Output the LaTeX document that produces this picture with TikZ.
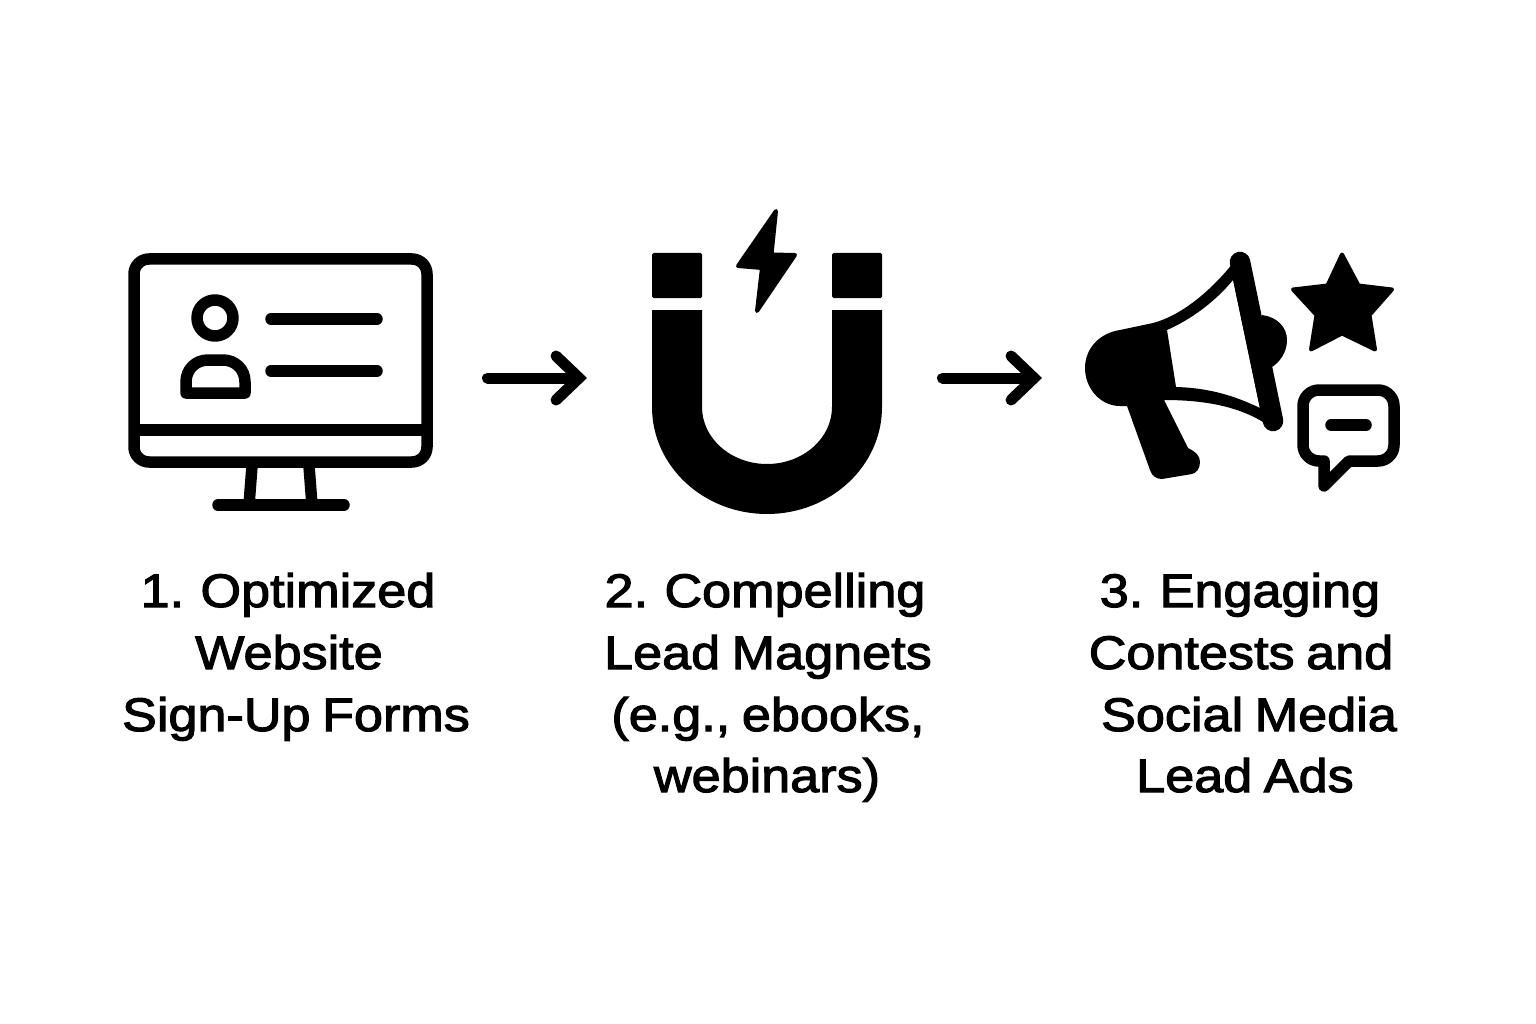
\documentclass[tikz,border=0pt]{standalone}
\usepackage{fontspec}
\setmainfont[FakeBold=2.4,FakeStretch=1.11,WordSpace=0.8]{Liberation Sans}
\usetikzlibrary{arrows.meta}
\tikzset{>=latex}
\tikzset{
    icon/.style={line width=11.5pt,line join=round},
    iconline/.style={icon,line cap=round},
    solid icon/.style={fill=black,draw=black,line width=4pt,line join=round},
    step label/.style={anchor=base,inner sep=0pt,font=\fontsize{47}{47}\selectfont},
    flow/.style={line width=11pt,line cap=round,-{Straight Barb[length=23pt,width=44pt,line width=11pt,line cap=round]}}
}
\begin{document}
\begin{tikzpicture}[x=1pt,y=-1pt]
    \useasboundingbox (0,0) rectangle (1536,1024);
    % monitor
    \draw[icon] (134,259) [rounded corners=15pt] rectangle (427,462);
    \draw[icon] (134,430) -- (427,430);
    \draw[icon] (252,466) -- (249,505);
    \draw[icon] (309,466) -- (312,505);
    \draw[iconline] (218,505) -- (344,505);
    \draw[icon] (215,318) circle (18);
    \draw[icon] (186,393) -- (186,382) .. controls (186,369) and (196,360) .. (208,360) -- (223,360)
        .. controls (235,360) and (245,369) .. (245,382) -- (245,393) -- cycle;
    \draw[iconline] (271,319) -- (377,319);
    \draw[iconline] (271,371) -- (377,371);
    % magnet
    \fill[rounded corners=1.5pt] (652,298) -- (652,253) -- (702,253) -- (702,298) -- cycle;
    \fill[rounded corners=1.5pt] (832,298) -- (832,253) -- (882,253) -- (882,298) -- cycle;
    \fill (652,310) -- (702,310) -- (702,407) arc[start angle=180,end angle=360,x radius=65,y radius=-57]
        -- (832,310) -- (882,310) -- (882,407) arc[start angle=360,end angle=180,x radius=115,y radius=-107] -- cycle;
    \path[solid icon] (776,211) -- (771.5,254.5) -- (795,255) -- (757,311) -- (762,268) -- (738,266) -- cycle;
    % megaphone
    \fill[even odd rule] (1120,330) -- (1153,323) .. controls (1180,316) and (1210,292) .. (1233,263)
        -- (1273,422) -- (1263,422) .. controls (1235,405) and (1200,400) .. (1164,400)
        -- (1188,448) .. controls (1196,452) and (1200,456) .. (1200,462) .. controls (1200,469) and (1196,473) .. (1192,474)
        -- (1162,479) .. controls (1156,479) and (1152,476) .. (1150,470) -- (1127,406) -- (1120,406)
        .. controls (1100,406) and (1085,388) .. (1085,368) .. controls (1085,348) and (1100,333) .. (1120,330) -- cycle
        (1233,280) -- (1260,408) .. controls (1235,396) and (1210,388) .. (1176,387) -- (1167,330)
        .. controls (1190,320) and (1215,302) .. (1233,280) -- cycle;
    \draw[line width=20.5pt,line cap=round] (1240,262) -- (1273,421);
    \fill (1262,315) .. controls (1277,317) and (1287,327) .. (1287,340) .. controls (1287,352) and (1280,362) .. (1272,367)
        -- (1255,340) -- cycle;
    % star
    \path[solid icon] (1342,254.5) -- (1358.5,285.5) -- (1392,289.5) -- (1369.5,315) -- (1375,349.5) -- (1342,333.5)
        -- (1311,349.5) -- (1316.5,315) -- (1293,289.5) -- (1327.5,285.5) -- cycle;
    % speech bubble
    \draw[icon] (1324,486) -- (1349,461) [rounded corners=16pt] -- (1394,461) -- (1394,390) -- (1303,390) -- (1303,461)
        [sharp corners] -- (1324,461) -- cycle;
    \draw[iconline] (1331,425) -- (1366,425);
    % arrows
    \coordinate (flowAstart) at (487.5,378);
    \coordinate (flowAend) at (587,378);
    \coordinate (flowBstart) at (942.5,378);
    \coordinate (flowBend) at (1042,378);
    \path[flow]
        (flowAstart) edge (flowAend)
        (flowBstart) edge (flowBend)
    ;
    % labels
    \node[step label] (optimized) at (288,607) {1. Optimized};
    \node[step label] (website) at (289,669) {Website};
    \node[step label] (signup) at (296,731) {Sign-Up Forms};
    \node[step label] (compelling) at (765,607) {2. Compelling};
    \node[step label] (magnets) at (768,669) {Lead Magnets};
    \node[step label] (ebooks) at (768,731) {(e.g., ebooks,};
    \node[step label] (webinars) at (767,792) {webinars)};
    \node[step label] (engaging) at (1240,607) {3. Engaging};
    \node[step label] (contests) at (1241,669) {Contests and};
    \node[step label] (social) at (1249,731) {Social Media};
    \node[step label] (leadads) at (1245,792) {Lead Ads};
\end{tikzpicture}
\end{document}
